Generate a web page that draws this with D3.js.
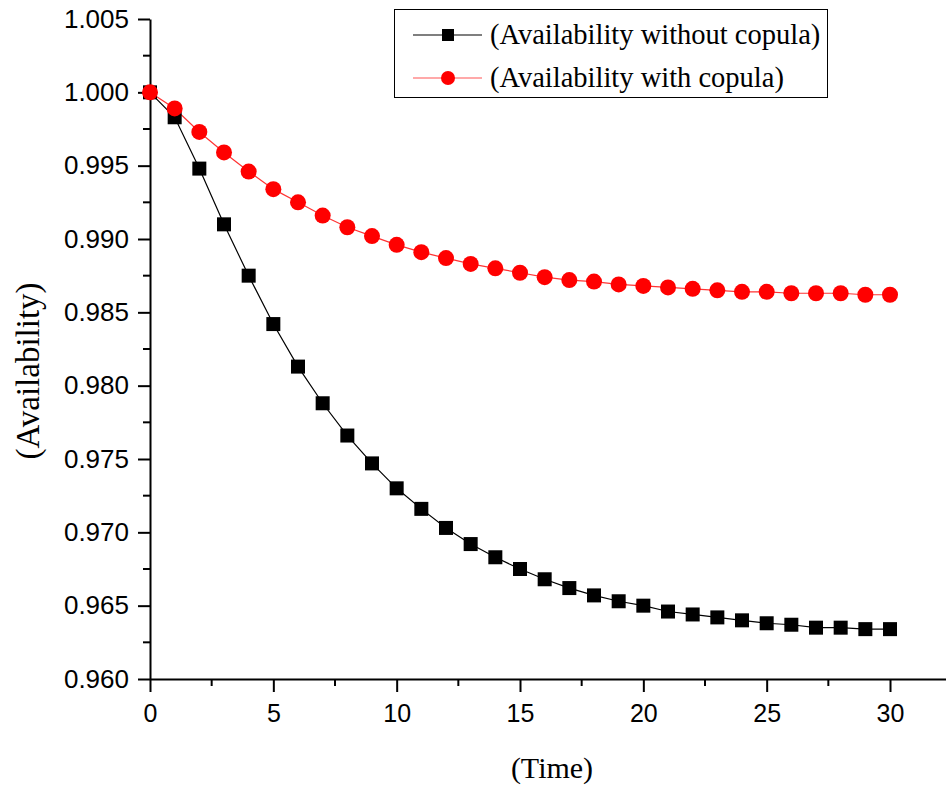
<!DOCTYPE html>
<html>
<head>
<meta charset="utf-8">
<script src="https://cdn.jsdelivr.net/npm/d3@7"></script>
<style>
  html, body { margin: 0; padding: 0; background: #fff; }
  svg { display: block; }
</style>
</head>
<body>
<svg id="chart" width="946" height="787"></svg>
<script>
// Time steps and availability series
const time = d3.range(0, 31);
const withoutCopula = [
  1.0000, 0.9983, 0.9948, 0.9910, 0.9875, 0.9842, 0.9813, 0.9788, 0.9766, 0.9747,
  0.9730, 0.9716, 0.9703, 0.9692, 0.9683, 0.9675, 0.9668, 0.9662, 0.9657, 0.9653,
  0.9650, 0.9646, 0.9644, 0.9642, 0.9640, 0.9638, 0.9637, 0.9635, 0.9635, 0.9634,
  0.9634
];
const withCopula = [
  1.0000, 0.9989, 0.9973, 0.9959, 0.9946, 0.9934, 0.9925, 0.9916, 0.9908, 0.9902,
  0.9896, 0.9891, 0.9887, 0.9883, 0.9880, 0.9877, 0.9874, 0.9872, 0.9871, 0.9869,
  0.9868, 0.9867, 0.9866, 0.9865, 0.9864, 0.9864, 0.9863, 0.9863, 0.9863, 0.9862,
  0.9862
];
const xTicks = [0, 5, 10, 15, 20, 25, 30];
const yTicks = [0.960, 0.965, 0.970, 0.975, 0.980, 0.985, 0.990, 0.995, 1.000, 1.005];
const seriesNames = ["(Availability without copula)", "(Availability with copula)"];

const svg = d3.select("#chart");
const plotLeft = 150, plotRight = 946, plotTop = 19, plotBottom = 679;

const x = d3.scaleLinear().domain([0, 32.27]).range([plotLeft, plotRight]);
const y = d3.scaleLinear().domain([0.960, 1.005]).range([plotBottom, plotTop]);

const sans = "'Liberation Sans', Arial, sans-serif";
const serif = "'Liberation Serif', 'Times New Roman', serif";

// Minor ticks
const xMinor = d3.range(2.5, 32, 5);
const yMinor = d3.range(0.9625, 1.005, 0.005);

// X axis
const gx = svg.append("g").attr("transform", `translate(0,${plotBottom})`);
gx.call(d3.axisBottom(x).tickValues(xTicks).tickSize(13).tickSizeOuter(0).tickPadding(12).tickFormat(d3.format("d")));
gx.append("g").selectAll("line").data(xMinor).join("line")
  .attr("x1", d => x(d)).attr("x2", d => x(d)).attr("y1", 0).attr("y2", 7)
  .attr("stroke", "#000").attr("stroke-width", 2);

// Y axis
const gy = svg.append("g").attr("transform", `translate(${plotLeft},0)`);
gy.call(d3.axisLeft(y).tickValues(yTicks).tickSize(12).tickSizeOuter(0).tickPadding(9).tickFormat(d3.format(".3f")));
gy.append("g").selectAll("line").data(yMinor).join("line")
  .attr("x1", 0).attr("x2", -7).attr("y1", d => y(d)).attr("y2", d => y(d))
  .attr("stroke", "#000").attr("stroke-width", 2);

[gx, gy].forEach(g => {
  g.select(".domain").attr("stroke", "#000").attr("stroke-width", 2);
  g.selectAll(".tick line").attr("stroke", "#000").attr("stroke-width", 2);
  g.selectAll(".tick text").attr("font-family", sans).attr("fill", "#000");
});
gy.selectAll(".tick text").attr("font-size", 26);
gx.selectAll(".tick text").attr("font-size", 25);

// Axis titles
svg.append("text").attr("x", 552).attr("y", 778).attr("text-anchor", "middle")
  .attr("font-family", serif).attr("font-size", 30).text("(Time)");
svg.append("text").attr("transform", "translate(39,371) rotate(-90)").attr("text-anchor", "middle")
  .attr("font-family", serif).attr("font-size", 33).text("(Availability)");

// Series lines and markers
const line = d3.line().x((d, i) => x(time[i])).y(d => y(d));

svg.append("path").datum(withoutCopula).attr("d", line)
  .attr("fill", "none").attr("stroke", "#000").attr("stroke-width", 1.2);
svg.append("path").datum(withCopula).attr("d", line)
  .attr("fill", "none").attr("stroke", "#ff3333").attr("stroke-width", 1.2);

const sq = 14;
svg.append("g").selectAll("rect").data(withoutCopula).join("rect")
  .attr("x", (d, i) => x(time[i]) - sq / 2).attr("y", d => y(d) - sq / 2)
  .attr("width", sq).attr("height", sq).attr("fill", "#000");

svg.append("g").selectAll("circle").data(withCopula).join("circle")
  .attr("cx", (d, i) => x(time[i])).attr("cy", d => y(d)).attr("r", 8)
  .attr("fill", "#ff0000");

// Legend
const lg = svg.append("g");
lg.append("rect").attr("x", 394.5).attr("y", 9.5).attr("width", 433).attr("height", 88)
  .attr("fill", "#fff").attr("stroke", "#000").attr("stroke-width", 1);
const rows = [
  { name: seriesNames[0], color: "#000", stroke: "#000", shape: "square", y: 35 },
  { name: seriesNames[1], color: "#ff0000", stroke: "#ff5555", shape: "circle", y: 78 }
];
rows.forEach(r => {
  lg.append("line").attr("x1", 413).attr("x2", 482).attr("y1", r.y).attr("y2", r.y)
    .attr("stroke", r.stroke).attr("stroke-width", 1.2);
  if (r.shape === "square") {
    lg.append("rect").attr("x", 448 - 6).attr("y", r.y - 6).attr("width", 12).attr("height", 12).attr("fill", r.color);
  } else {
    lg.append("circle").attr("cx", 448).attr("cy", r.y).attr("r", 7).attr("fill", r.color);
  }
  lg.append("text").attr("x", 490).attr("y", r.y + 9).attr("font-family", serif)
    .attr("font-size", 28.5).attr("fill", "#000").text(r.name);
});
</script>
</body>
</html>
